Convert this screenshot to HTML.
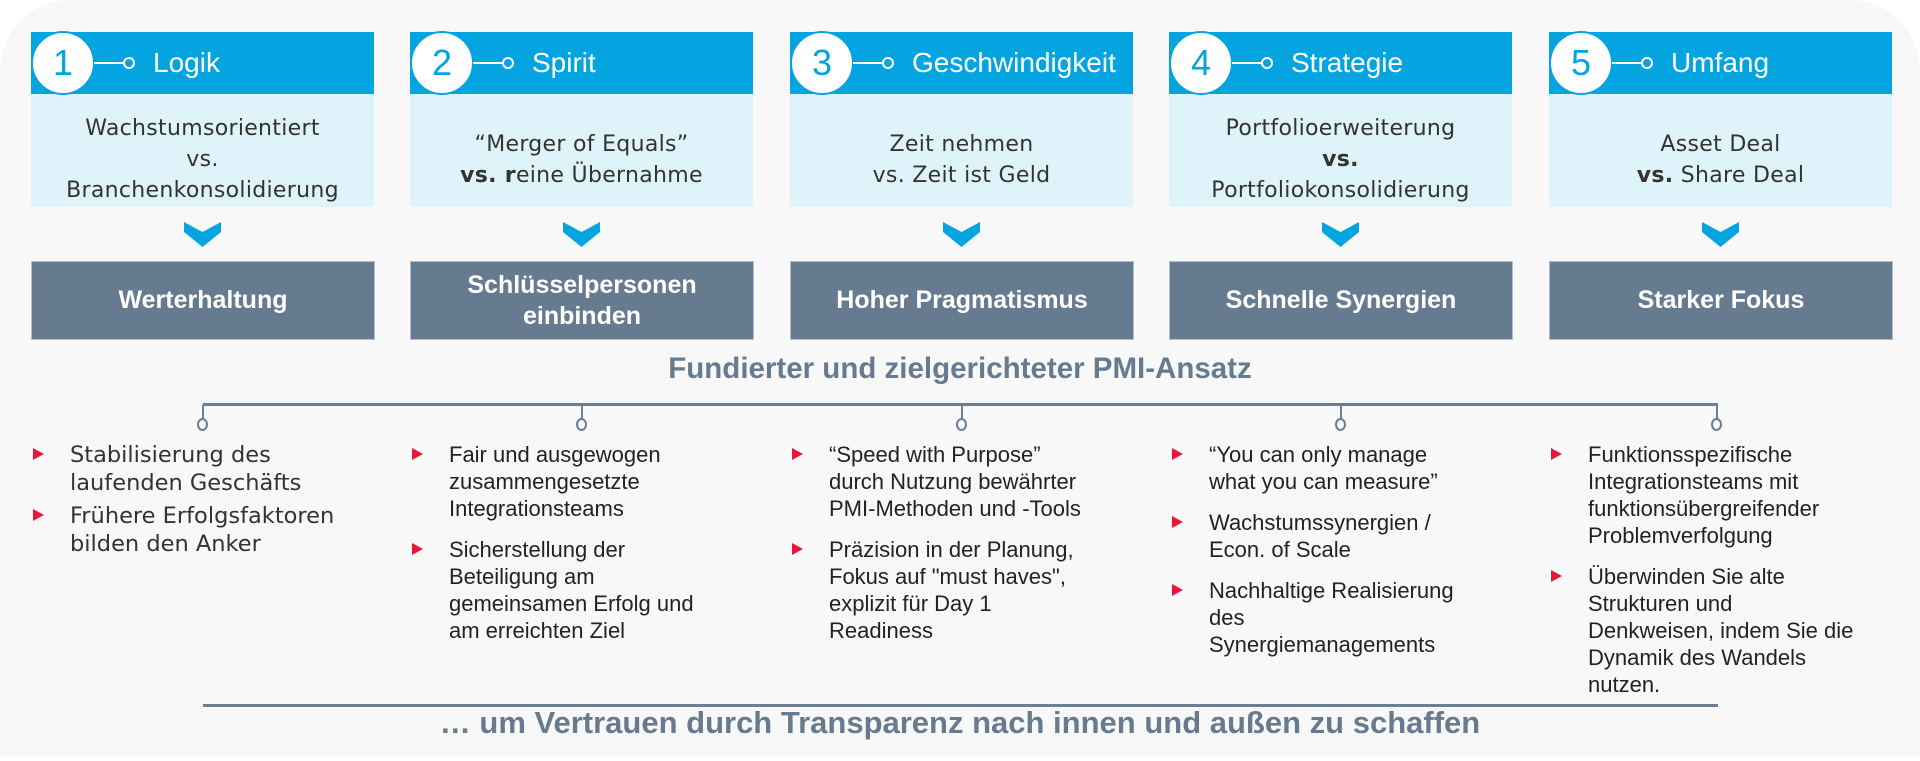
<!DOCTYPE html>
<html><head><meta charset="utf-8"><style>
*{margin:0;padding:0;box-sizing:border-box}
body{width:1920px;height:761px;background:#fff;position:relative;overflow:hidden;font-family:"Liberation Sans",Arial,sans-serif}
.bg{position:absolute;left:0;top:0;width:1920px;height:756px;background:#f8f8f8;border-radius:70px 70px 0 0}
.col{position:absolute;top:0;width:343px}
.hd{position:absolute;top:32px;left:0;width:343px;height:62px;background:#03a4e0}
.num{position:absolute;left:0;top:31px;width:64px;height:64px;border-radius:50%;background:#fff;border:2px solid #03a4e0;color:#03a4e0;font-size:36px;line-height:60px;text-align:center}
.cl{position:absolute;left:63px;top:62px;width:30px;height:2px;background:#fff}
.cd{position:absolute;left:92px;top:57px;width:12px;height:12px;border-radius:50%;border:2.5px solid #fff;background:#03a4e0}
.tt{position:absolute;left:122px;top:0;line-height:62px;color:#fff;font-size:28px}
.bd{position:absolute;top:94px;left:0;width:343px;height:113px;padding-top:18px;background:#dff3fb;display:flex;align-items:center;justify-content:center;text-align:center;font-family:"DejaVu Sans",sans-serif;font-size:22px;line-height:31px;color:#333;letter-spacing:.3px}
.chev{position:absolute;top:222px;left:153px}
.dk{position:absolute;top:261px;left:0;width:344px;height:79px;background:#667b90;border:1px solid #aebccb;display:flex;align-items:center;justify-content:center;text-align:center;color:#fff;font-weight:bold;font-size:25px;line-height:31px}
.ttl{position:absolute;left:0;width:1920px;text-align:center;color:#667b90;font-weight:bold}
.hl{position:absolute;left:203px;width:1515px;height:3px;background:#6b8096}
.stub{position:absolute;top:405px;width:2px;height:14px;background:#6b8096}
.dot{position:absolute;top:418px;width:11px;height:13px;border-radius:50%;border:2px solid #6b8096;background:#f8f8f8}
.bl{position:absolute;top:441px;font-size:22px;line-height:27px;color:#222}
.bl p{position:relative;margin-bottom:14px}
.bl p:before{content:"";position:absolute;left:-37px;top:7px;border-left:11px solid #e8173a;border-top:6.5px solid transparent;border-bottom:6.5px solid transparent}
.c1{font-family:"DejaVu Sans",sans-serif;font-size:22.5px;line-height:28px;color:#333}
.c1 p{margin-bottom:5px}
</style></head><body>
<div class="bg"></div>

<div class="col" style="left:31px"><div class="hd"><div class="tt">Logik</div></div><div class="bd"><span>Wachstumsorientiert<br>vs.<br>Branchenkonsolidierung</span></div><svg class="chev" width="37" height="26"><polygon points="0,0 18.5,10 37,0 37,10 18.5,25 0,10" fill="#03a4e0"/></svg><div class="dk">Werterhaltung</div><div class="num">1</div><div class="cl"></div><div class="cd"></div></div>
<div class="col" style="left:410px"><div class="hd"><div class="tt">Spirit</div></div><div class="bd"><span>“Merger of Equals”<br><b>vs. r</b>eine Übernahme</span></div><svg class="chev" width="37" height="26"><polygon points="0,0 18.5,10 37,0 37,10 18.5,25 0,10" fill="#03a4e0"/></svg><div class="dk">Schlüsselpersonen<br>einbinden</div><div class="num">2</div><div class="cl"></div><div class="cd"></div></div>
<div class="col" style="left:790px"><div class="hd"><div class="tt">Geschwindigkeit</div></div><div class="bd"><span>Zeit nehmen<br>vs. Zeit ist Geld</span></div><svg class="chev" width="37" height="26"><polygon points="0,0 18.5,10 37,0 37,10 18.5,25 0,10" fill="#03a4e0"/></svg><div class="dk">Hoher Pragmatismus</div><div class="num">3</div><div class="cl"></div><div class="cd"></div></div>
<div class="col" style="left:1169px"><div class="hd"><div class="tt">Strategie</div></div><div class="bd"><span>Portfolioerweiterung<br><b>vs.</b><br>Portfoliokonsolidierung</span></div><svg class="chev" width="37" height="26"><polygon points="0,0 18.5,10 37,0 37,10 18.5,25 0,10" fill="#03a4e0"/></svg><div class="dk">Schnelle Synergien</div><div class="num">4</div><div class="cl"></div><div class="cd"></div></div>
<div class="col" style="left:1549px"><div class="hd"><div class="tt">Umfang</div></div><div class="bd"><span>Asset Deal<br><b>vs.</b> Share Deal</span></div><svg class="chev" width="37" height="26"><polygon points="0,0 18.5,10 37,0 37,10 18.5,25 0,10" fill="#03a4e0"/></svg><div class="dk">Starker Fokus</div><div class="num">5</div><div class="cl"></div><div class="cd"></div></div>

<div class="ttl" style="top:352px;font-size:29.5px">Fundierter und zielgerichteter PMI-Ansatz</div>
<div class="hl" style="top:403px"></div>
<div class="stub" style="left:202px"></div><div class="dot" style="left:197px"></div>
<div class="stub" style="left:581px"></div><div class="dot" style="left:576px"></div>
<div class="stub" style="left:961px"></div><div class="dot" style="left:956px"></div>
<div class="stub" style="left:1340px"></div><div class="dot" style="left:1335px"></div>
<div class="stub" style="left:1716px"></div><div class="dot" style="left:1711px"></div>

<div class="bl c1" style="left:70px"><p>Stabilisierung des<br>laufenden Geschäfts</p><p>Frühere Erfolgsfaktoren<br>bilden den Anker</p></div>
<div class="bl" style="left:449px"><p>Fair und ausgewogen<br>zusammengesetzte<br>Integrationsteams</p><p>Sicherstellung der<br>Beteiligung am<br>gemeinsamen Erfolg und<br>am erreichten Ziel</p></div>
<div class="bl" style="left:829px"><p>“Speed with Purpose”<br>durch Nutzung bewährter<br>PMI-Methoden und -Tools</p><p>Präzision in der Planung,<br>Fokus auf "must haves",<br>explizit für Day 1<br>Readiness</p></div>
<div class="bl" style="left:1209px"><p>“You can only manage<br>what you can measure”</p><p>Wachstumssynergien /<br>Econ. of Scale</p><p>Nachhaltige Realisierung<br>des<br>Synergiemanagements</p></div>
<div class="bl" style="left:1588px"><p>Funktionsspezifische<br>Integrationsteams mit<br>funktionsübergreifender<br>Problemverfolgung</p><p>Überwinden Sie alte<br>Strukturen und<br>Denkweisen, indem Sie die<br>Dynamik des Wandels<br>nutzen.</p></div>

<div class="hl" style="top:704px"></div>
<div class="ttl" style="top:705px;font-size:31px">… um Vertrauen durch Transparenz nach innen und außen zu schaffen</div>
</body></html>
